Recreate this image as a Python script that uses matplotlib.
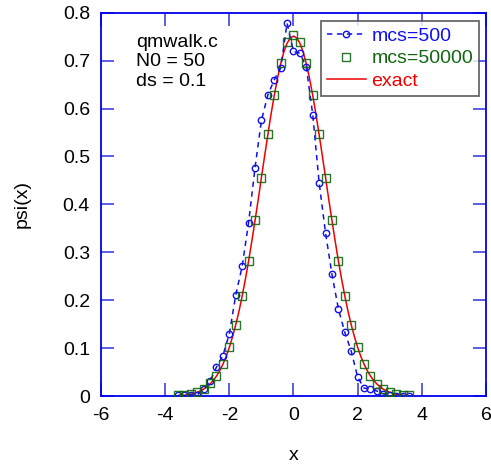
import matplotlib.pyplot as plt
import numpy as np

plt.rcParams['font.family'] = ['Liberation Sans', 'DejaVu Sans']
plt.rcParams['axes.unicode_minus'] = False

# sample grid of the histograms (bin centres)
x_mc = [-3.6, -3.4, -3.2, -3.0, -2.8, -2.6, -2.4, -2.2, -2.0, -1.8, -1.6, -1.4,
        -1.2, -1.0, -0.8, -0.6, -0.4, -0.2, 0.0, 0.2, 0.4, 0.6, 0.8, 1.0,
        1.2, 1.4, 1.6, 1.8, 2.0, 2.2, 2.4, 2.6, 2.8, 3.0, 3.2, 3.4, 3.6]

psi_mcs500 = [0.002, 0.002, 0.003, 0.003, 0.015, 0.032, 0.061, 0.085, 0.130, 0.211, 0.271, 0.362,
              0.476, 0.575, 0.628, 0.660, 0.684, 0.778, 0.719, 0.715, 0.686, 0.587, 0.445, 0.340,
              0.254, 0.182, 0.133, 0.094, 0.040, 0.017, 0.015, 0.011, 0.005, 0.002, 0.001, 0.001, 0.001]

psi_mcs50000 = [0.002, 0.003, 0.005, 0.008, 0.016, 0.027, 0.043, 0.067, 0.102, 0.149, 0.209, 0.282,
                0.367, 0.456, 0.546, 0.628, 0.694, 0.739, 0.754, 0.738, 0.695, 0.629, 0.547, 0.455,
                0.367, 0.282, 0.209, 0.149, 0.102, 0.067, 0.042, 0.026, 0.015, 0.009, 0.005, 0.003, 0.002]

# exact ground state
x_exact = [-3.6, -3.5, -3.4, -3.3, -3.2, -3.1, -3.0, -2.9, -2.8, -2.7, -2.6, -2.5,
           -2.4, -2.3, -2.2, -2.1, -2.0, -1.9, -1.8, -1.7, -1.6, -1.5, -1.4, -1.3,
           -1.2, -1.1, -1.0, -0.9, -0.8, -0.7, -0.6, -0.5, -0.4, -0.3, -0.2, -0.1,
           0.0, 0.1, 0.2, 0.3, 0.4, 0.5, 0.6, 0.7, 0.8, 0.9, 1.0, 1.1,
           1.2, 1.3, 1.4, 1.5, 1.6, 1.7, 1.8, 1.9, 2.0, 2.1, 2.2, 2.3,
           2.4, 2.5, 2.6, 2.7, 2.8, 2.9, 3.0, 3.1, 3.2, 3.3, 3.4, 3.5, 3.6]
psi_exact = [0.0012, 0.0016, 0.0023, 0.0032, 0.0045, 0.0062, 0.0083, 0.0112, 0.0149, 0.0196, 0.0256, 0.0330,
             0.0422, 0.0533, 0.0668, 0.0828, 0.102, 0.124, 0.149, 0.177, 0.209, 0.244, 0.282, 0.323,
             0.366, 0.410, 0.456, 0.501, 0.545, 0.588, 0.627, 0.663, 0.693, 0.718, 0.736, 0.747,
             0.751, 0.747, 0.736, 0.718, 0.693, 0.663, 0.627, 0.588, 0.545, 0.501, 0.456, 0.410,
             0.366, 0.323, 0.282, 0.244, 0.209, 0.177, 0.149, 0.124, 0.102, 0.0828, 0.0668, 0.0533,
             0.0422, 0.0330, 0.0256, 0.0196, 0.0149, 0.0112, 0.0083, 0.0062, 0.0045, 0.0032, 0.0023, 0.0016, 0.0012]

x_ticks = [-6, -4, -2, 0, 2, 4, 6]
y_ticks = [0, 0.1, 0.2, 0.3, 0.4, 0.5, 0.6, 0.7, 0.8]
y_ticklabels = ['0', '0.1', '0.2', '0.3', '0.4', '0.5', '0.6', '0.7', '0.8']

BLUE = '#1010ee'
GREEN = '#116611'
RED = '#ee0000'
FS = 14

fig = plt.figure(figsize=(4.91, 4.66), dpi=100)
ax = fig.add_axes([0.2057, 0.1496, 0.7841, 0.8234])

ax.plot(x_mc, psi_mcs500, linestyle=(0, (3.5, 3)), color=BLUE, linewidth=1.1,
        marker='o', markersize=4.6, markerfacecolor='none', markeredgecolor=BLUE,
        markeredgewidth=1.0, label='mcs=500', zorder=3)
ax.plot(x_mc, psi_mcs50000, linestyle='none', marker='s', markersize=6.2,
        markerfacecolor='none', markeredgecolor=GREEN, markeredgewidth=1.0,
        alpha=0.9, label='mcs=50000', zorder=4)
ax.plot(x_exact, psi_exact, color=RED, linewidth=1.1, label='exact', zorder=2)

ax.set_xlim(-6, 6)
ax.set_ylim(0, 0.8)
ax.set_xticks(x_ticks)
ax.set_yticks(y_ticks)
ax.set_yticklabels(y_ticklabels)
ax.tick_params(direction='in', length=9.4, width=1.3, color='#5050e0',
               top=True, right=True, labelsize=FS, pad=8)
for sp in ax.spines.values():
    sp.set_color('#0000ee')
    sp.set_linewidth(1.3)

ax.set_xlabel('x', fontsize=FS, labelpad=16)
ax.set_ylabel('psi(x)', fontsize=FS, labelpad=23)

ax.text(0.092, 0.945, 'qmwalk.c\nN0 = 50\nds = 0.1', transform=ax.transAxes,
        fontsize=FS, va='top', ha='left', linespacing=1.2)

leg = ax.legend(loc='upper right', bbox_to_anchor=(0.982, 0.977), fontsize=FS,
                frameon=True, fancybox=False, handlelength=2.0, handletextpad=0.3,
                borderpad=0.3, labelspacing=0.25, borderaxespad=0)
leg.get_frame().set_edgecolor('#444444')
leg.get_frame().set_linewidth(1.3)
for txt, c in zip(leg.get_texts(), [BLUE, GREEN, RED]):
    txt.set_color(c)

plt.savefig('out.png', dpi=100)
plt.close()
